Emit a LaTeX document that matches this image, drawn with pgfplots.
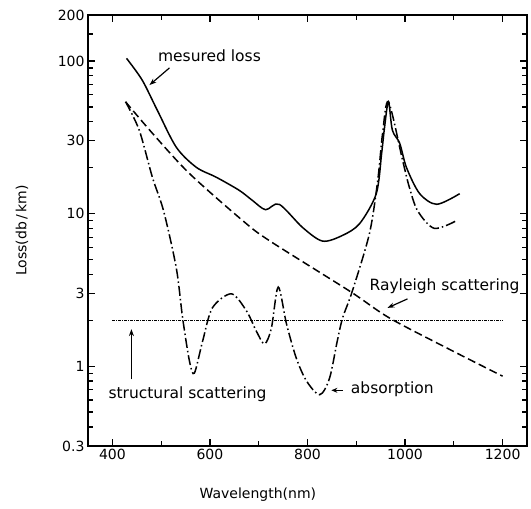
\documentclass[border=0pt]{standalone}
\usepackage{fontspec}
\setmainfont{DejaVu Sans}
\usepackage{pgfplots}
\pgfplotsset{compat=1.18}
\usetikzlibrary{arrows.meta}
\begin{document}
\begin{tikzpicture}[font=\fontsize{15.5bp}{17bp}\selectfont]
\begin{axis}[
  scale only axis, width=439bp, height=431bp,
  ymode=log, xmin=350, xmax=1250, ymin=0.3, ymax=200,
  xtick={400,600,800,1000,1200},
  minor xtick={500,700,900,1100},
  ytick={0.3,1,3,10,30,100,200},
  yticklabels={0.3,1,3,10,30,100,200},
  minor ytick={0.4,0.5,0.6,0.7,0.8,0.9,2,4,5,6,7,8,9,20,40,50,60,70,80,90,150},
  tick pos=both, tick align=inside,
  major tick length=7bp, minor tick length=5bp,
  every tick/.append style={black, line width=1.3bp},
  axis line style={line width=1.6bp},
  /pgf/number format/assume math mode=true,
  /pgf/number format/1000 sep={},
  tick label style={font=\fontsize{14bp}{16bp}\selectfont},
  xlabel={Wavelength(nm)},
  ylabel={Loss(db\,/\,km)},
  label style={font=\fontsize{14bp}{16bp}\selectfont},
  xlabel style={at={(axis description cs:0.387,-0.1137)}, anchor=center},
  ylabel style={at={(axis description cs:-0.1503,0.5)}, anchor=center},
]
% measured loss
\addplot[black, line width=1.5bp, smooth, tension=0.5] coordinates {
(429,104) (461,75) (492,47.6) (531,27.2) (572,20.1) (613,17.3) (660,14.2)
(687,12.2) (714,10.6) (742,11.5) (790,8.1) (831,6.6) (872,7.2) (907,8.6)
(941,13.5) (952,24.8) (958,36.8) (966,54) (974,35.2) (989,28.9) (1003,20)
(1030,13.5) (1065,11.5) (1112,13.5)};
% absorption
\addplot[black, line width=1.5bp, smooth, tension=0.5,
  dash pattern=on 10bp off 3bp on 1.5bp off 3bp] coordinates {
(427,54) (455,35.2) (482,17.3) (505,10.4) (531,4.4) (544,2.07) (558,1.08)
(568,0.90) (585,1.46) (605,2.41) (644,2.98) (675,2.30) (695,1.70) (712,1.40)
(726,1.78) (740,3.3) (757,1.89) (777,1.13) (798,0.80) (825,0.65) (845,0.83)
(861,1.46) (872,2.07) (892,3.11) (927,7.4) (944,16.5) (954,33.6) (966,54)
(995,22.3) (1009,14.8) (1026,10.4) (1060,8.0) (1106,9.0)};
% Rayleigh
\addplot[black, line width=1.5bp, smooth, dash pattern=on 8bp off 4bp] coordinates {
(427,54) (482,33.6) (558,18.3) (667,9.0) (722,6.64) (886,3.11) (968,2.07)
(1091,1.29) (1200,0.86)};
% structural
\addplot[black, line width=1.1bp, dash pattern=on 3bp off 1bp on 1bp off 1bp] coordinates {
(400,2) (1200,2)};
% labels
\node at (axis cs:599,109) {mesured loss};
\draw[-{Stealth[length=7bp,width=5bp]}, line width=1.2bp] (axis cs:517,90) -- (axis cs:476,69.5);
\node at (axis cs:1081,3.36) {Rayleigh scattering};
\draw[-{Stealth[length=7bp,width=5bp]}, line width=1.2bp] (axis cs:1005,2.76) -- (axis cs:964,2.41);
\node at (axis cs:974,0.706) {absorption};
\draw[-{Stealth[length=6bp,width=5bp]}, line width=1.2bp] (axis cs:872,0.695) -- (axis cs:849,0.695);
\node at (axis cs:554,0.654) {structural scattering};
\draw[-{Stealth[length=7bp,width=5bp]}, line width=1.2bp] (axis cs:439,0.82) -- (axis cs:439,1.75);
\end{axis}
\pgfresetboundingbox
\path[use as bounding box] (-88bp,-63bp) rectangle (443bp,446bp);
\end{tikzpicture}
\end{document}
